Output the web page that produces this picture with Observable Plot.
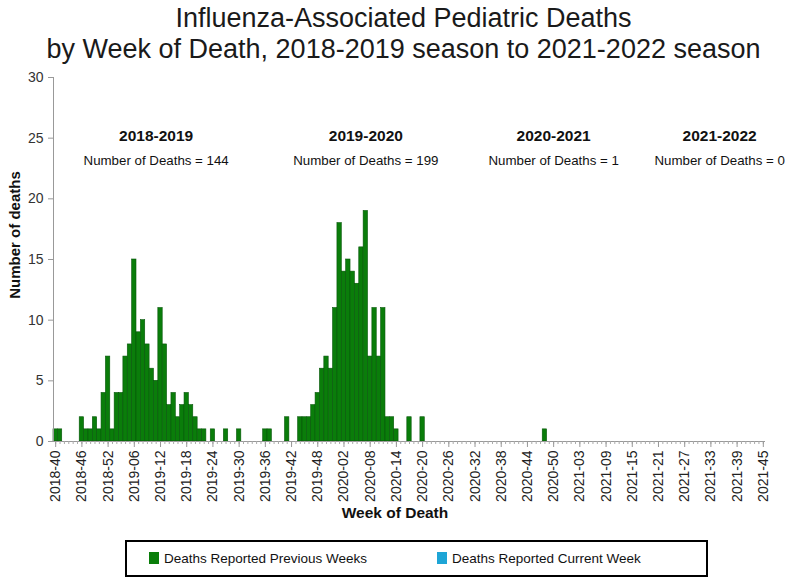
<!DOCTYPE html>
<html><head><meta charset="utf-8">
<script src="https://cdn.jsdelivr.net/npm/d3@7"></script>
<script src="https://cdn.jsdelivr.net/npm/@observablehq/plot@0.6"></script>
<style>
body{margin:0;background:#fff;font-family:Arial,"Liberation Sans",sans-serif;}
#wrap{position:relative;width:807px;height:581px;overflow:hidden;background:#fff;}
#title{position:absolute;left:0;top:3px;width:807px;text-align:center;font-size:27px;line-height:31px;color:#1a1a1a;}
#ylab{position:absolute;left:14px;top:235px;transform:translate(-50%,-50%) rotate(-90deg);font-weight:bold;font-size:15px;white-space:nowrap;color:#111;}
#xlab{position:absolute;left:395px;top:505px;transform:translateX(-50%);font-weight:bold;font-size:15.5px;line-height:1;white-space:nowrap;color:#111;}
#legend{position:absolute;left:125px;top:540px;width:579px;height:33px;border:2px solid #000;box-sizing:content-box;}
.li{position:absolute;top:9px;font-size:13.5px;line-height:15px;white-space:nowrap;color:#111;}
.sw{display:inline-block;width:10px;height:12px;vertical-align:-1px;margin-right:5px;}
#chart{position:absolute;left:0;top:0;}
</style></head><body>
<div id="wrap">
  <div id="chart"></div>
  <div id="title">Influenza-Associated Pediatric Deaths<br>by Week of Death, 2018-2019 season to 2021-2022 season</div>
  <div id="ylab">Number of deaths</div>
  <div id="xlab">Week of Death</div>
  <div id="legend"></div>
</div>
<script>
// ---- data ----
const years = [2018, 2019, 2020, 2021];
const firstWeek = [40, 1, 1, 1];
const lastWeek = [52, 52, 53, 45];

const deaths2018 = [1,1,0,0,0,0,2,1,1,2,1,4,7];
const deaths2019 = [1,4,4,7,8,15,9,10,8,6, 5,11,8,3,4,2,3,4,3,2, 1,1,0,1,0,0,1,0,0,1,
                    0,0,0,0,0,1,1,0,0,0, 2,0,0,2,2,2,3,4,6,7, 6,11];
const deaths2020 = [18,14,15,14,13,16,19,7,11,7, 11,2,2,1,0,0,2,0,0,2,
                    0,0,0,0,0,0,0,0,0,0, 0,0,0,0,0,0,0,0,0,0, 0,0,0,0,0,0,0,1,0,0, 0,0,0];
const deaths2021 = [0,0,0,0,0,0,0,0,0,0, 0,0,0,0,0,0,0,0,0,0, 0,0,0,0,0,0,0,0,0,0,
                    0,0,0,0,0,0,0,0,0,0, 0,0,0,0,0];

const tickLabels = ["2018-40","2018-46","2018-52","2019-06","2019-12","2019-18","2019-24","2019-30",
  "2019-36","2019-42","2019-48","2020-02","2020-08","2020-14","2020-20","2020-26","2020-32","2020-38",
  "2020-44","2020-50","2021-03","2021-09","2021-15","2021-21","2021-27","2021-33","2021-39","2021-45"];
const yTicks = [0,5,10,15,20,25,30];

const seasons = ["2018-2019","2019-2020","2020-2021","2021-2022"];
const seasonTotals = [144, 199, 1, 0];
const seasonLabelWeek = ["2019-11","2020-07","2020-50","2021-35"];

const legendLabels = ["Deaths Reported Previous Weeks","Deaths Reported Current Week"];
const legendColors = ["#0a7d0a","#1ea5d6"];

// ---- build table ----
const deathsByYear = [deaths2018, deaths2019, deaths2020, deaths2021];
const data = [];
years.forEach((yr, i) => {
  for (let w = firstWeek[i]; w <= lastWeek[i]; w++) {
    data.push({week: `${yr}-${String(w).padStart(2,"0")}`, deaths: deathsByYear[i][w - firstWeek[i]]});
  }
});
const weeks = data.map(d => d.week);
const seasonData = seasons.map((s, i) => ({season: s, total: seasonTotals[i], week: seasonLabelWeek[i]}));

const chart = Plot.plot({
  width: 807, height: 530,
  marginLeft: 53, marginRight: 42, marginTop: 77, marginBottom: 89,
  style: {fontFamily: "Arial, 'Liberation Sans', sans-serif", color: "#222", background: "transparent", overflow: "visible"},
  x: {type: "band", domain: weeks, padding: 0},
  y: {domain: [0, 30]},
  marks: [
    Plot.barY(data.filter(d => d.deaths > 0), {x: "week", y: "deaths", fill: legendColors[0], stroke: "#07560a", strokeWidth: 0.6}),
    Plot.ruleY([0], {stroke: "#999"}),
    Plot.frame({anchor: "left", stroke: "#999"}),
    Plot.axisY({ticks: yTicks, tickSize: 5, tickPadding: 5, fontSize: 14, label: null, stroke: "#999", fill: "#333"}),
    Plot.axisX({ticks: weeks, tickSize: 3, tickFormat: () => "", label: null, stroke: "#aaa"}),
    Plot.axisX({ticks: tickLabels, tickSize: 6, tickPadding: 3, tickRotate: -90, fontSize: 14, label: null, stroke: "#999", fill: "#222"}),
    Plot.text(seasonData, {x: "week", text: "season", frameAnchor: "top", lineAnchor: "middle", dy: 58.5, fontWeight: "bold", fontSize: 15.5, fill: "#111"}),
    Plot.text(seasonData, {x: "week", text: d => `Number of Deaths = ${d.total}`, frameAnchor: "top", lineAnchor: "middle", dy: 83, fontSize: 13.3, fill: "#111"})
  ]
});
document.getElementById("chart").appendChild(chart);

const legend = document.getElementById("legend");
const legendX = [22, 310];
legendLabels.forEach((lab, i) => {
  const el = document.createElement("div");
  el.className = "li";
  el.style.left = legendX[i] + "px";
  el.innerHTML = `<span class="sw" style="background:${legendColors[i]}"></span>`;
  el.appendChild(document.createTextNode(lab));
  legend.appendChild(el);
});
</script>
</body></html>
